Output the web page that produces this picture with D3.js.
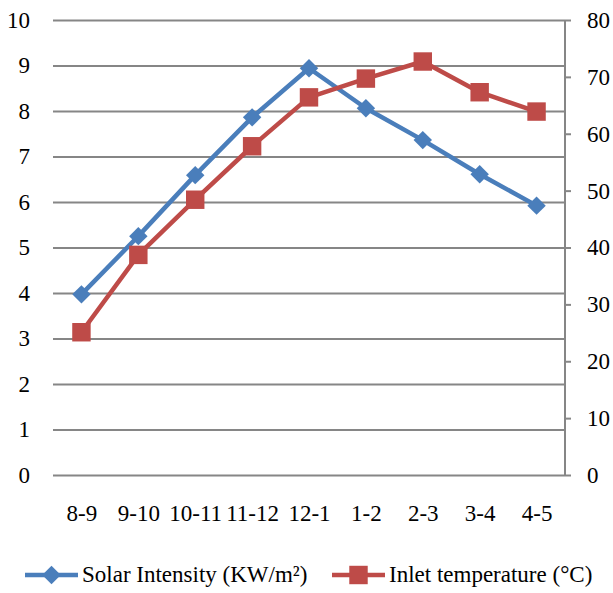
<!DOCTYPE html>
<html lang="en">
<head>
<meta charset="UTF-8">
<title>Solar intensity vs inlet temperature</title>
<style>
html,body{margin:0; width:100vw; height:100vh; overflow:hidden; background:#fff;}
svg{display:block;}
svg text{font-family:"Liberation Serif","DejaVu Serif",serif !important; fill:#000;}
</style>
</head>
<body>
<svg width="613" height="593"></svg>
<script src="https://d3js.org/d3.v7.min.js"></script>
<script>
const hours = ["8-9","9-10","10-11","11-12","12-1","1-2","2-3","3-4","4-5"];
const solar = [3.97, 5.25, 6.59, 7.86, 8.94, 8.06, 7.36, 6.61, 5.92];
const inlet = [25.1, 38.7, 48.4, 57.8, 66.4, 69.7, 72.7, 67.3, 63.9];
const leftTicks = [0,1,2,3,4,5,6,7,8,9,10];
const rightTicks = [0,10,20,30,40,50,60,70,80];

const svg = d3.select("svg");
const m = {top:20, right:48, bottom:118, left:53};
const W = 613 - m.left - m.right, H = 593 - m.top - m.bottom;
const BLUE = "#4a7ebb", RED = "#be4b48", GRID = "#868686";
const FS = 23;

const x = d3.scalePoint().domain(hours).range([0, W]).padding(0.5);
const yL = d3.scaleLinear().domain([0,10]).range([H,0]);
const yR = d3.scaleLinear().domain([0,80]).range([H,0]);

const g = svg.append("g").attr("transform",`translate(${m.left},${m.top})`);

// gridlines + left labels
const gl = g.append("g").call(d3.axisLeft(yL).tickValues(leftTicks).tickSize(-W).tickPadding(23));
gl.select(".domain").remove();
gl.selectAll(".tick line").attr("stroke",GRID).attr("stroke-width",2);
gl.selectAll("text").style("font-size",FS+"px");

// right axis
const gr = g.append("g").attr("transform",`translate(${W},0)`)
  .call(d3.axisRight(yR).tickValues(rightTicks).tickSize(6).tickPadding(16));
gr.select(".domain").attr("stroke",GRID).attr("stroke-width",2).attr("d",`M0,0V${H}`);
gr.selectAll(".tick line").attr("stroke",GRID).attr("stroke-width",2);
gr.selectAll("text").style("font-size",FS+"px");

// x labels
const gx = g.append("g").attr("transform",`translate(0,${H})`)
  .call(d3.axisBottom(x).tickSize(0).tickPadding(30));
gx.select(".domain").remove();
gx.selectAll("text").style("font-size",FS+"px");

const diamond = d3.symbol().type(d3.symbolSquare).size(170);
const square = d3.symbol().type(d3.symbolSquare).size(340);

function series(vals, y, color, sym, rot){
  g.append("path").datum(vals)
    .attr("fill","none").attr("stroke",color).attr("stroke-width",4.5)
    .attr("stroke-linejoin","round")
    .attr("d", d3.line().x((d,i)=>x(hours[i])).y(d=>y(d)));
  g.selectAll(null).data(vals).join("path")
    .attr("d", sym)
    .attr("fill",color)
    .attr("transform",(d,i)=>`translate(${x(hours[i])},${y(d)}) rotate(${rot})`);
}
series(solar, yL, BLUE, diamond, 45);
series(inlet, yR, RED, square, 0);

// legend
const legend = [
  {name:"Solar Intensity (KW/m²)", color:BLUE, sym:diamond, rot:45, x:25},
  {name:"Inlet temperature (°C)", color:RED, sym:square, rot:0, x:332}
];
const lg = svg.append("g").attr("transform","translate(0,575)");
legend.forEach(d=>{
  const it = lg.append("g").attr("transform",`translate(${d.x},0)`);
  it.append("line").attr("x1",0).attr("x2",53).attr("stroke",d.color).attr("stroke-width",4.5);
  it.append("path").attr("d",d.sym).attr("fill",d.color).attr("transform",`translate(26.5,0) rotate(${d.rot})`);
  it.append("text").attr("x",57).attr("y",7).style("font-size",FS+"px").text(d.name);
});
</script>
</body>
</html>
